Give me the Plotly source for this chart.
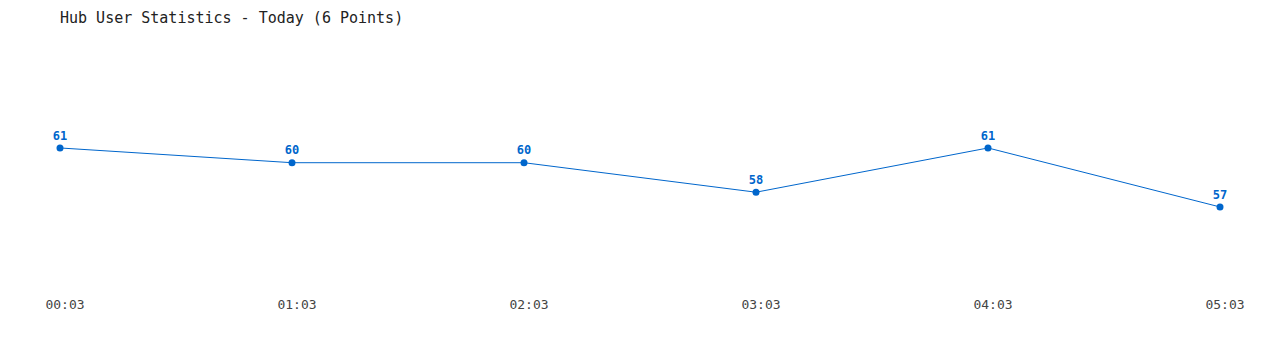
import plotly.graph_objects as go

times = ["00:03", "01:03", "02:03", "03:03", "04:03", "05:03"]
users = [61, 60, 60, 58, 61, 57]
xpos = list(range(len(times)))

color = "#0066cc"
font_family = "DejaVu Sans Mono, Liberation Mono, monospace"

fig = go.Figure()
fig.add_trace(go.Scatter(
    x=xpos, y=users, mode="lines+markers+text",
    line=dict(color=color, width=1),
    marker=dict(color=color, size=7),
    text=[str(v) for v in users],
    textposition="top center",
    textfont=dict(family=font_family, size=12, color=color, weight="bold"),
    cliponaxis=False,
    hoverinfo="x+y",
))

fig.update_layout(
    width=1280, height=350,
    margin=dict(l=60, r=60, t=40, b=60),
    paper_bgcolor="white", plot_bgcolor="white",
    showlegend=False,
    title=dict(text="Hub User Statistics - Today (6 Points)",
               x=60/1280, xanchor="left", y=1-18/350, yanchor="middle",
               font=dict(family=font_family, size=15, color="#222")),
    xaxis=dict(range=[0, 5], tickvals=xpos, ticktext=times,
               showgrid=False, zeroline=False, showline=False,
               ticks="", ticklabelstandoff=5, ticklabelshift=5,
               tickfont=dict(family=font_family, size=13, color="#444")),
    yaxis=dict(range=[51.37, 68.32], visible=False, showgrid=False, zeroline=False),
)

fig.write_html("out.html")
